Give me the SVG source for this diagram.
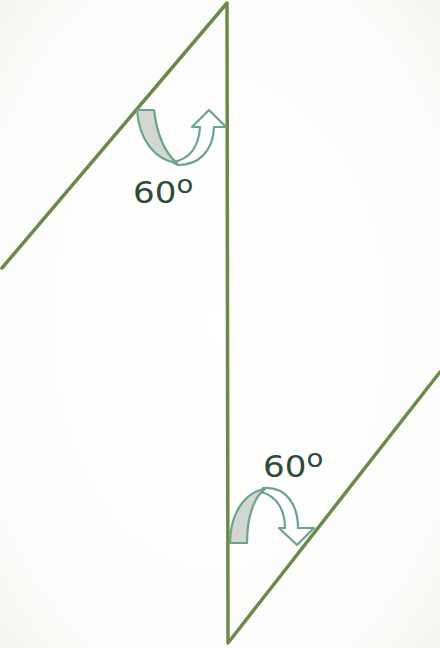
<svg xmlns="http://www.w3.org/2000/svg" width="440" height="648" viewBox="0 0 440 648">
  <defs>
    <radialGradient id="bg" cx="50%" cy="50%" r="75%">
      <stop offset="0" stop-color="#ffffff"/>
      <stop offset="0.75" stop-color="#fbfcfa"/>
      <stop offset="1" stop-color="#f0f4ec"/>
    </radialGradient>
  </defs>
  <style>
    .ln { stroke: #6b8a4a; stroke-width: 3.5; fill: none; stroke-linecap: round; stroke-linejoin: round; }
    .band { fill: #d4d6d4; stroke: #6aa48a; stroke-width: 2.2; stroke-linejoin: round; }
    .arr { fill: #ffffff; stroke: #6aa48a; stroke-width: 2.2; stroke-linejoin: round; }
    .lbl { font-family: "DejaVu Sans", "Liberation Sans", sans-serif; font-size: 31px; fill: #2e4a3a; }
  </style>
  <rect width="440" height="648" fill="url(#bg)"/>
  <g id="connectors">
    <path class="ln" d="M2,268 L227,3 L228,643 L440,372"/>
  </g>
  <g id="angle-top">
    <path class="arr" d="M172,162 C190,160 199,146 200,127 L192,127 L209,110 L226,127 L214,127 C213,152 198,165 178,165 Z"/>
    <path class="band" d="M137,110 L154,110 C157,135 164,152 177,163 C155,160 139,140 137,110 Z"/>
    <text class="lbl" x="133" y="203" transform="translate(133 0) scale(1.1 1) translate(-133 0)">60<tspan font-size="25" dy="-10">o</tspan></text>
  </g>
  <g id="angle-bottom">
    <path class="arr" d="M263,488 C287,486 298,506 298,528 L314,528 L297,545 L279,528 L285,528 C285,510 277,496 261,492 Z"/>
    <path class="band" d="M230,543 C230,515 244,492 265,489 C255,496 247,515 247,543 Z"/>
    <text class="lbl" x="263" y="477" transform="translate(263 0) scale(1.1 1) translate(-263 0)">60<tspan font-size="25" dy="-10">o</tspan></text>
  </g>
</svg>
